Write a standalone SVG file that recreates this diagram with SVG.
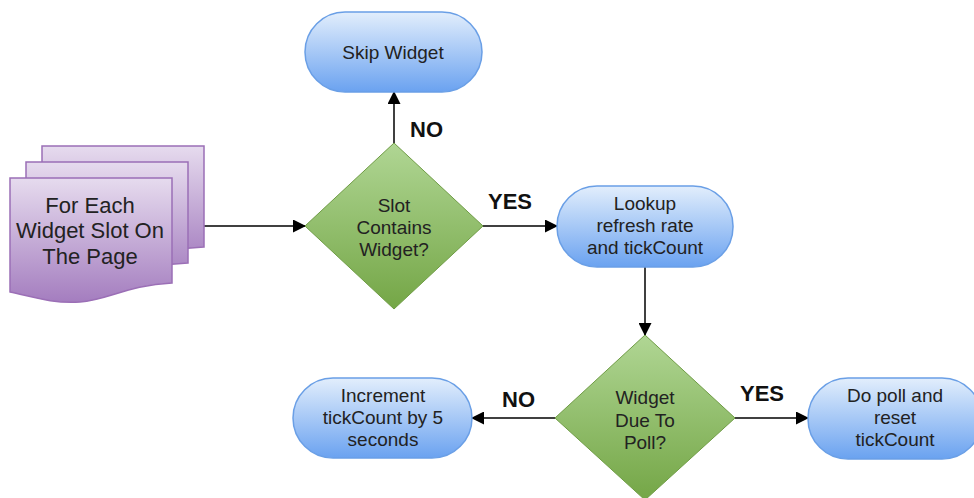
<svg xmlns="http://www.w3.org/2000/svg" width="974" height="498" viewBox="0 0 974 498">
<style>
text{font-family:"Liberation Sans",Arial,sans-serif;fill:#222;text-anchor:middle}
.n{font-size:19px}
.d{font-size:22px}
.lb{font-size:22px;font-weight:bold;fill:#111;text-anchor:start}
.pill{fill:url(#gb);stroke:#6a9fe6;stroke-width:1.5}
.dia{fill:url(#gg);stroke:#6f9c45;stroke-width:1}
.doc{fill:url(#gp);stroke:#9b6fb6;stroke-width:1.5}
.c{stroke:#000;stroke-width:1.5;fill:none;marker-end:url(#ah)}
</style>
<defs>
<linearGradient id="gb" x1="0" y1="0" x2="0" y2="1"><stop offset="0" stop-color="#e2eefc"/><stop offset="1" stop-color="#6aa2f0"/></linearGradient>
<linearGradient id="gg" x1="0" y1="0" x2="0" y2="1"><stop offset="0" stop-color="#b0d694"/><stop offset="1" stop-color="#74a646"/></linearGradient>
<linearGradient id="gp" x1="0" y1="0" x2="0" y2="1"><stop offset="0" stop-color="#e6dbee"/><stop offset="1" stop-color="#a47dbf"/></linearGradient>
<marker id="ah" markerWidth="13" markerHeight="13" refX="12" refY="6.5" orient="auto" markerUnits="userSpaceOnUse" viewBox="0 0 13 13"><path d="M0,0 L13,6.5 L0,13 Z" fill="#000"/></marker>
</defs>
<g id="connectors">
<path class="c" d="M204,226 H305"/>
<path class="c" d="M394,143 V92"/>
<path class="c" d="M483,226 H557"/>
<path class="c" d="M645,267 V335"/>
<path class="c" d="M555,418 H472"/>
<path class="c" d="M735,418 H808"/>
</g>
<g id="labels">
<text class="lb" x="410" y="137">NO</text>
<text class="lb" x="488" y="209">YES</text>
<text class="lb" x="502" y="407">NO</text>
<text class="lb" x="740" y="401">YES</text>
</g>
<g id="for-each">
<path class="doc" d="M42,146 H204 V247 C160,249 140,262 112,264 C85,266 62,258 42,256 Z"/>
<path class="doc" d="M26,162 H188 V263 C144,265 124,278 96,280 C69,282 46,274 26,272 Z"/>
<path class="doc" d="M10,178 H172 V283 C128,285 108,300 80,302 C52,304 30,296 10,292 Z"/>
<text class="d" x="90" y="213">For Each</text>
<text class="d" x="90" y="238">Widget Slot On</text>
<text class="d" x="90" y="264">The Page</text>
</g>
<g id="skip-widget">
<rect class="pill" x="305" y="12" width="177" height="80" rx="40"/>
<text class="n" x="393" y="59">Skip Widget</text>
</g>
<g id="slot-contains">
<path class="dia" d="M394,143 L483,226 L394,309 L305,226 Z"/>
<text class="n" x="394" y="212">Slot</text>
<text class="n" x="394" y="234">Contains</text>
<text class="n" x="394" y="256">Widget?</text>
</g>
<g id="lookup">
<rect class="pill" x="557" y="186" width="176" height="81" rx="40"/>
<text class="n" x="645" y="210">Lookup</text>
<text class="n" x="645" y="232">refresh rate</text>
<text class="n" x="645" y="254">and tickCount</text>
</g>
<g id="widget-due">
<path class="dia" d="M645,335 L735,418 L645,500 L555,418 Z"/>
<text class="n" x="645" y="404">Widget</text>
<text class="n" x="645" y="427">Due To</text>
<text class="n" x="645" y="449">Poll?</text>
</g>
<g id="increment">
<rect class="pill" x="293" y="378" width="179" height="80" rx="40"/>
<text class="n" x="383" y="402">Increment</text>
<text class="n" x="383" y="424">tickCount by 5</text>
<text class="n" x="383" y="446">seconds</text>
</g>
<g id="do-poll">
<rect class="pill" x="808" y="378" width="174" height="81" rx="40"/>
<text class="n" x="895" y="402">Do poll and</text>
<text class="n" x="895" y="424">reset</text>
<text class="n" x="895" y="446">tickCount</text>
</g>
</svg>
